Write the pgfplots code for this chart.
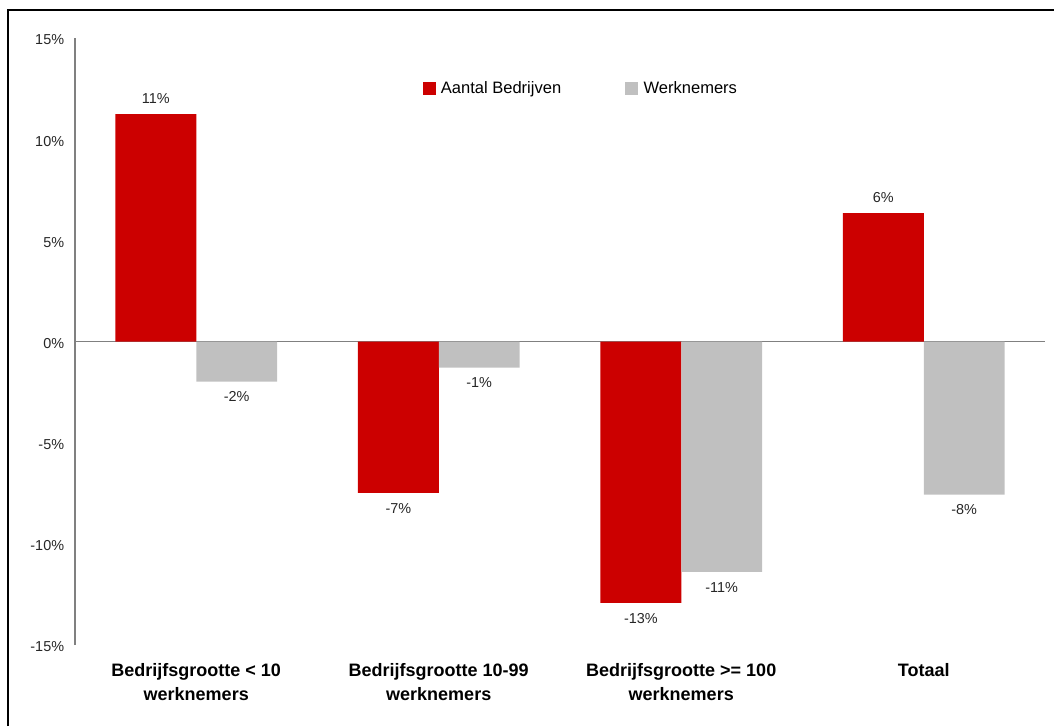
\documentclass[border=0pt]{standalone}
\usepackage{fontspec}
\setmainfont{Liberation Sans}
\usepackage{pgfplots}
\pgfplotsset{compat=1.18}
\definecolor{barred}{HTML}{CC0000}
\definecolor{bargray}{HTML}{C0C0C0}
\definecolor{axgray}{HTML}{808080}
\begin{document}
\begin{tikzpicture}
\useasboundingbox (0,0) rectangle (790.5pt,544.5pt);
\draw[line width=1.6pt] (6pt,0) -- (6pt,537pt) -- (792pt,537pt);
\begin{axis}[
  at={(56.25pt,60.75pt)}, anchor=south west,
  scale only axis, width=727.5pt, height=455.25pt,
  xmin=-0.5, xmax=3.5, ymin=-15, ymax=15,
  ybar=0pt, bar width=0.3333,
  axis y line*=left, axis x line*=bottom,
  x axis line style={draw=none},
  y axis line style={-, draw=axgray, line width=0.8pt},
  major tick length=0pt,
  xtick={0,1,2,3},
  xticklabels={{Bedrijfsgrootte < 10\\werknemers},{Bedrijfsgrootte 10-99\\werknemers},{Bedrijfsgrootte >= 100\\werknemers},{Totaal}},
  xticklabel style={align=center, font=\fontsize{13.5}{18}\selectfont\bfseries, anchor=north, yshift=-10pt},
  ytick={-15,-10,-5,0,5,10,15},
  yticklabel={\pgfmathprintnumber[assume math mode=true]{\tick}\%},
  yticklabel style={font=\fontsize{10.8}{12}\selectfont, text=black!85, inner sep=0pt, anchor=east, xshift=-8pt, yshift=-1.5pt},
  extra y ticks={0}, extra y tick labels={},
  extra y tick style={grid=major, major grid style={draw=axgray, line width=0.8pt}},
  point meta=explicit symbolic,
  visualization depends on={rawy \as \rawy},
  nodes near coords={\pgfplotspointmeta\%},
  every node near coord/.append style={font=\fontsize{10.8}{12}\selectfont, text=black!85, inner sep=0pt,
    /utils/exec={\ifdim\rawy pt<0pt \def\myanc{north}\def\mysh{-7.5pt}\else\def\myanc{south}\def\mysh{8pt}\fi},
    anchor=\myanc, yshift=\mysh},
  legend columns=2,
  legend style={at={(0.358,0.9176)}, anchor=west, draw=none, fill=none, inner sep=0pt,
    font=\fontsize{12.4}{14}\selectfont,
    /tikz/every even column/.append style={column sep=46pt}},
  legend image code/.code={\fill[#1] (0pt,-4.9pt) rectangle (9.75pt,4.85pt);},
  clip=false,
]
\addplot[fill=barred, draw=none] coordinates {(0,11.24) [11] (1,-7.48) [-7] (2,-12.92) [-13] (3,6.34) [6]};
\addlegendentry{\hspace{2pt}Aantal Bedrijven}
\addplot[fill=bargray, draw=none] coordinates {(0,-1.98) [-2] (1,-1.29) [-1] (2,-11.39) [-11] (3,-7.57) [-8]};
\addlegendentry{\hspace{2pt}Werknemers}
\end{axis}
\end{tikzpicture}
\end{document}
